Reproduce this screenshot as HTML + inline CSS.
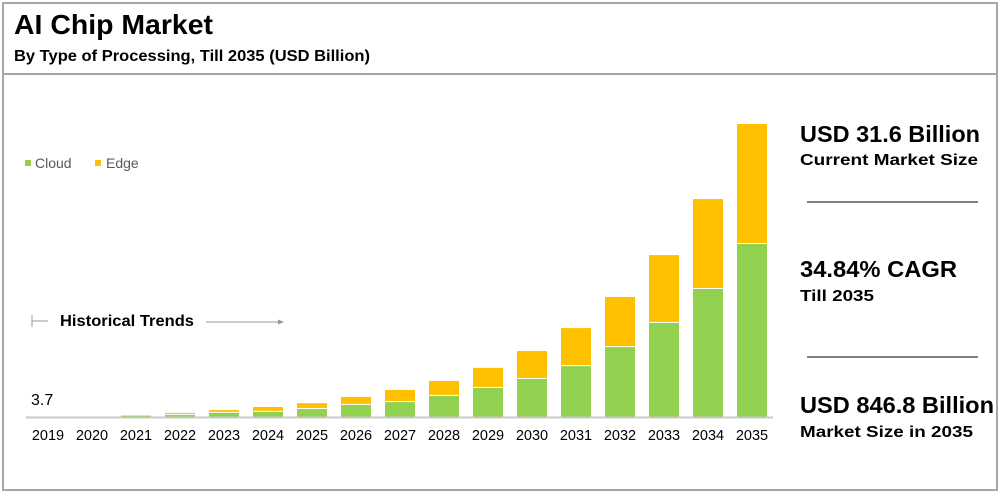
<!DOCTYPE html>
<html><head><meta charset="utf-8">
<style>
body{margin:0;width:1000px;height:492px;background:#fff;overflow:hidden;font-family:"Liberation Sans",Arial,sans-serif;}
svg{display:block}
</style></head>
<body>
<svg id="c" width="1000" height="492">
<rect x="3" y="3" width="994" height="487" fill="#fff" stroke="#a6a6a6" stroke-width="2"/>
<line x1="3" y1="74" x2="997" y2="74" stroke="#a6a6a6" stroke-width="2"/>
<text x="14" y="34" font-size="28" font-weight="bold" fill="#000" textLength="199" lengthAdjust="spacingAndGlyphs">AI Chip Market</text>
<text x="14" y="61" font-size="16" font-weight="bold" fill="#000" textLength="356" lengthAdjust="spacingAndGlyphs">By Type of Processing, Till 2035 (USD Billion)</text>
<g>
<rect x="25" y="160" width="6" height="6" fill="#92d050"/>
<text x="35" y="168" font-size="14" fill="#595959">Cloud</text>
<rect x="95" y="160" width="6" height="6" fill="#ffc000"/>
<text x="106" y="168" font-size="14" fill="#595959">Edge</text>
</g>
<g>
<line x1="32" y1="315" x2="32" y2="327" stroke="#999" stroke-width="1"/>
<line x1="32" y1="321" x2="48" y2="321" stroke="#999" stroke-width="1"/>
<text x="60" y="326" font-size="16" font-weight="bold" fill="#000" textLength="134" lengthAdjust="spacingAndGlyphs">Historical Trends</text>
<line x1="206" y1="322" x2="280" y2="322" stroke="#999" stroke-width="1"/>
<polygon points="284,322 278,319.5 278,324.5" fill="#999"/>
</g>
<text x="31" y="405" font-size="16" fill="#000">3.7</text>
<g id="bars"></g>
<line x1="26" y1="417.5" x2="773" y2="417.5" stroke="#c8c8c8" stroke-width="2"/>
<g id="xlabels"></g>
<g>
<text x="800" y="142" font-size="23" font-weight="bold" fill="#000" textLength="180" lengthAdjust="spacingAndGlyphs">USD 31.6 Billion</text>
<text x="800" y="165" font-size="16" font-weight="bold" fill="#000" textLength="178" lengthAdjust="spacingAndGlyphs">Current Market Size</text>
<line x1="807" y1="202" x2="978" y2="202" stroke="#808080" stroke-width="2"/>
<text x="800" y="277" font-size="23" font-weight="bold" fill="#000" textLength="157" lengthAdjust="spacingAndGlyphs">34.84% CAGR</text>
<text x="800" y="301" font-size="16" font-weight="bold" fill="#000" textLength="74" lengthAdjust="spacingAndGlyphs">Till 2035</text>
<line x1="807" y1="357" x2="978" y2="357" stroke="#808080" stroke-width="2"/>
<text x="800" y="413" font-size="23" font-weight="bold" fill="#000" textLength="194" lengthAdjust="spacingAndGlyphs">USD 846.8 Billion</text>
<text x="800" y="437" font-size="16" font-weight="bold" fill="#000" textLength="173" lengthAdjust="spacingAndGlyphs">Market Size in 2035</text>
</g>
</svg>
<script>
const years = ["2019","2020","2021","2022","2023","2024","2025","2026","2027","2028","2029","2030","2031","2032","2033","2034","2035"];
const cloud = [0.8,1.2,4,6,12,15,23,35,43,61,84,110,147,202,272,370,500];
const edge = [0.6,0.8,2,6,8,14,17,23,35,43,58,81,110,145,196,260,347];
const ns="http://www.w3.org/2000/svg";
const baseY=417, pxPerUnit=293/847, x0=48, step=44, bw=30;
function yScale(v){return baseY - v*pxPerUnit;}
function xCenter(i){return x0 + i*step;}
const bars=document.getElementById('bars');
const xl=document.getElementById('xlabels');
years.forEach((yr,i)=>{
  const cx=xCenter(i);
  const c=document.createElementNS(ns,'rect');
  c.setAttribute('x',cx-bw/2);c.setAttribute('width',bw);
  c.setAttribute('y',yScale(cloud[i]));c.setAttribute('height',baseY-yScale(cloud[i]));
  c.setAttribute('fill','#92d050');
  
  
  bars.appendChild(c);
  const e=document.createElementNS(ns,'rect');
  const top=yScale(cloud[i]+edge[i]);
  e.setAttribute('x',cx-bw/2);e.setAttribute('width',bw);
  e.setAttribute('y',top);e.setAttribute('height',Math.max(0,yScale(cloud[i])-top-1));
  e.setAttribute('fill','#ffc000');
  
  
  bars.appendChild(e);
  const t=document.createElementNS(ns,'text');
  t.setAttribute('x',cx);t.setAttribute('y',440);
  t.setAttribute('text-anchor','middle');t.setAttribute('font-size','14.5');t.setAttribute('fill','#000');
  t.textContent=yr;
  
  
  xl.appendChild(t);
});
</script>
</body></html>
